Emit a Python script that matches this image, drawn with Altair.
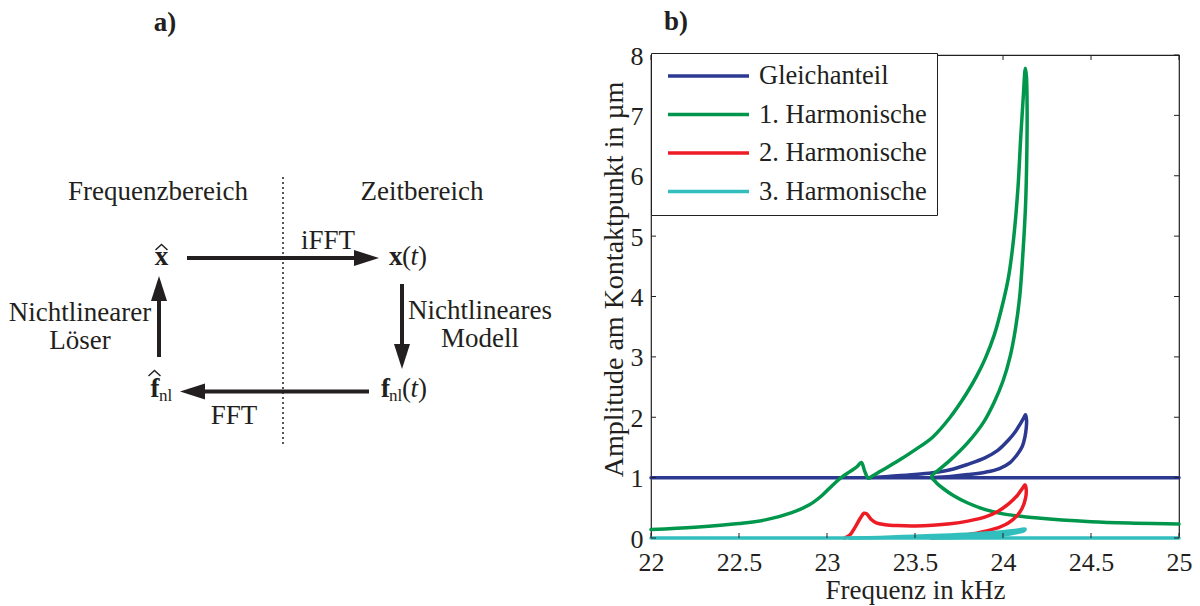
import math
import altair as alt
import pandas as pd

FONT = "Liberation Serif"
INK = "#231f20"

# ---------------- chart data (panel b) ----------------
SERIES = ["Gleichanteil", "1. Harmonische", "2. Harmonische", "3. Harmonische"]
COLORS = ["#2B3990", "#00964B", "#ED1C24", "#33BEBE"]
X_TICKS = [22, 22.5, 23, 23.5, 24, 24.5, 25]
Y_TICKS = [0, 1, 2, 3, 4, 5, 6, 7, 8]
X_TITLE = "Frequenz in kHz"
Y_TITLE = "Amplitude am Kontaktpunkt in µm"

# Gleichanteil
gl_flat_f = [22.0, 25.0]
gl_flat_a = [1.0, 1.0]
gl_loop_f = [23.235, 23.35, 23.50, 23.60, 23.70, 23.80, 23.90, 23.97, 24.03, 24.07, 24.10, 24.12,
             24.128, 24.134, 24.132, 24.125, 24.11, 24.08, 24.04, 23.98, 23.90, 23.80, 23.70, 23.595]
gl_loop_a = [1.00, 1.02, 1.05, 1.08, 1.13, 1.22, 1.33, 1.45, 1.62, 1.76, 1.90, 2.00,
             2.04, 1.95, 1.82, 1.68, 1.52, 1.38, 1.25, 1.15, 1.09, 1.05, 1.02, 1.00]

# 1. Harmonische
h1_f = [22.00, 22.25, 22.50, 22.65, 22.80, 22.90, 22.97, 23.03, 23.08, 23.13, 23.17, 23.195,
        23.215, 23.235, 23.26, 23.30, 23.40, 23.50, 23.60, 23.70, 23.79, 23.85, 23.90, 23.95,
        23.99, 24.03, 24.06, 24.085, 24.10, 24.115, 24.127, 24.133, 24.137, 24.135, 24.128,
        24.115, 24.095, 24.07, 24.04, 24.00, 23.95, 23.89, 23.80, 23.70, 23.64, 23.595, 23.62,
        23.66, 23.72, 23.80, 23.90, 24.00, 24.20, 24.50, 24.75, 25.00]
h1_a = [0.14, 0.18, 0.24, 0.30, 0.42, 0.55, 0.70, 0.87, 1.00, 1.10, 1.18, 1.25,
        1.10, 0.99, 1.03, 1.10, 1.27, 1.46, 1.67, 2.00, 2.38, 2.68, 2.98, 3.36,
        3.78, 4.30, 4.95, 5.80, 6.60, 7.30, 7.78, 7.65, 7.10, 6.30, 5.50,
        4.80, 4.00, 3.45, 3.00, 2.60, 2.25, 1.92, 1.58, 1.29, 1.14, 1.02, 0.92,
        0.82, 0.70, 0.58, 0.47, 0.40, 0.33, 0.27, 0.245, 0.23]

# 2. Harmonische
h2_f = [23.10, 23.13, 23.16, 23.19, 23.21, 23.225, 23.25, 23.28, 23.33, 23.40, 23.50, 23.60,
        23.70, 23.80, 23.90, 23.97, 24.03, 24.08, 24.11, 24.125, 24.132, 24.128, 24.11, 24.08,
        24.03, 23.95, 23.85, 23.75, 23.65, 23.595]
h2_a = [0.00, 0.05, 0.18, 0.33, 0.41, 0.40, 0.31, 0.25, 0.22, 0.205, 0.20, 0.21,
        0.235, 0.28, 0.35, 0.44, 0.56, 0.70, 0.82, 0.88, 0.80, 0.66, 0.50, 0.37,
        0.25, 0.15, 0.08, 0.04, 0.015, 0.0]

# 3. Harmonische
h3_flat_f = [22.0, 25.0]
h3_flat_a = [0.0, 0.0]
h3_loop_f = [23.13, 23.30, 23.50, 23.70, 23.85, 23.95, 24.05, 24.10, 24.125, 24.12, 24.08,
             24.00, 23.90, 23.75, 23.60]
h3_loop_a = [0.0, 0.01, 0.03, 0.05, 0.07, 0.09, 0.12, 0.14, 0.15, 0.12, 0.09,
             0.05, 0.03, 0.01, 0.0]

# ---------------- diagram content (panel a), in diagram units ----------------
diag_regular = [("Frequenzbereich", 158, 200), ("Zeitbereich", 422, 200), ("iFFT", 328, 249),
                ("FFT", 234, 424), ("Nichtlinearer", 80, 321), ("Löser", 80, 349),
                ("Nichtlineares", 480, 319), ("Modell", 480, 347)]
diag_bold_center = [("x", 161.5, 265), ("f", 155, 397), ("a)", 165, 31), ("b)", 676, 30)]
diag_bold_left = [("x", 389, 265), ("f", 381, 397)]
diag_paren_left = [("(", 402, 265), (")", 418, 265), ("(", 402, 397), (")", 418, 397)]
diag_italic_left = [("t", 410.5, 265), ("t", 410.5, 397)]
diag_sub_left = [("nl", 159, 401), ("nl", 389, 401)]
diag_hats = [[(155.5, 250), (161.5, 244.5), (167.5, 250)],
             [(148.5, 376), (154.5, 370.5), (160.5, 376)]]
diag_arrows = [(187, 258, 379, 258), (402, 284, 402, 369), (369, 391.5, 180, 391.5), (159, 357, 159, 276)]
diag_divider = [(283, 177, 283, 445)]


# ---------------- build tables ----------------
def seg_rows(series, sid, fs, as_):
    return [{"series": series, "seg": f"{series}-{sid}", "i": i, "f": f, "a": a}
            for i, (f, a) in enumerate(zip(fs, as_))]


rows = []
rows += seg_rows(SERIES[0], 0, gl_flat_f, gl_flat_a)
rows += seg_rows(SERIES[0], 1, gl_loop_f, gl_loop_a)
rows += seg_rows(SERIES[1], 0, h1_f, h1_a)
rows += seg_rows(SERIES[2], 0, h2_f, h2_a)
rows += seg_rows(SERIES[3], 0, h3_flat_f, h3_flat_a)
rows += seg_rows(SERIES[3], 1, h3_loop_f, h3_loop_a)
curves = pd.DataFrame(rows)

xt = pd.DataFrame({"f": X_TICKS})
yt = pd.DataFrame({"a": Y_TICKS})

W, H = 528, 483
PAD = {"left": 651, "top": 55, "right": 21, "bottom": 68}
FS = 26
FS_T = 27

x_enc = alt.X("f:Q", scale=alt.Scale(domain=[22, 25], nice=False, zero=False),
              axis=alt.Axis(values=X_TICKS, format="~g", title=X_TITLE, ticks=False, tickSize=0,
                            domain=False, grid=False, labelFont=FONT, labelFontSize=FS,
                            labelColor=INK, labelBaseline="alphabetic", labelPadding=32,
                            labelFlush=False, labelOverlap=False, titleFont=FONT,
                            titleFontSize=FS_T, titleFontWeight="normal", titleColor=INK,
                            titleBaseline="alphabetic", titleX=W / 2, titleY=60))
y_enc = alt.Y("a:Q", scale=alt.Scale(domain=[0, 8], nice=False, zero=False),
              axis=alt.Axis(values=Y_TICKS, format="d", title=Y_TITLE, ticks=False, tickSize=0,
                            domain=False, grid=False, labelFont=FONT, labelFontSize=FS,
                            labelColor=INK, labelAlign="right", labelBaseline="alphabetic",
                            labelOffset=9, labelPadding=8, labelFlush=False, labelOverlap=False,
                            titleFont=FONT, titleFontSize=28, titleFontWeight="normal",
                            titleColor=INK, titleAngle=270, titleBaseline="alphabetic",
                            titleAlign="center", titleX=-29, titleY=224))
c_enc = alt.Color("series:N", scale=alt.Scale(domain=SERIES, range=COLORS),
                  legend=alt.Legend(title=None, orient="none", legendX=0, legendY=-2,
                                    direction="vertical", symbolType="stroke", symbolSize=6561,
                                    symbolStrokeWidth=3.5, clipHeight=26, rowPadding=11.5,
                                    labelFont=FONT, labelFontSize=26.5, labelColor=INK,
                                    labelOffset=8, symbolOffset=5, padding=10,
                                    strokeColor=INK, fillColor="white", labelLimit=0,
                                    labelExpr="datum.label + '\u00a0\u00a0\u00a0'"))

line_layers = []
for name in SERIES:
    line_layers.append(
        alt.Chart(curves).transform_filter(alt.datum.series == name)
        .mark_line(strokeWidth=3.5, strokeCap="round", strokeJoin="round",
                   interpolate="catmull-rom")
        .encode(x=x_enc, y=y_enc, color=c_enc, detail="seg:N", order="i:Q")
    )

tick_len = 5
ticks_bottom = alt.Chart(xt).mark_rule(color=INK, strokeWidth=1).encode(
    x=x_enc, y=alt.value(H), y2=alt.value(H - tick_len))
ticks_top = alt.Chart(xt).mark_rule(color=INK, strokeWidth=1).encode(
    x=x_enc, y=alt.value(0), y2=alt.value(tick_len))
ticks_left = alt.Chart(yt).mark_rule(color=INK, strokeWidth=1).encode(
    y=y_enc, x=alt.value(0), x2=alt.value(tick_len))
ticks_right = alt.Chart(yt).mark_rule(color=INK, strokeWidth=1).encode(
    y=y_enc, x=alt.value(W), x2=alt.value(W - tick_len))

plot = alt.layer(*line_layers, ticks_bottom, ticks_top, ticks_left, ticks_right)

# ---------------- diagram layers ----------------
DX = alt.Scale(domain=[0, 1200], range=[-PAD["left"], 1200 - PAD["left"]], nice=False, zero=False)
DY = alt.Scale(domain=[0, 606], range=[-PAD["top"], 606 - PAD["top"]], nice=False, zero=False)


def tdf(items):
    return pd.DataFrame([{"t": t, "dx": x, "dy": y} for t, x, y in items])


def text_layer(items, **style):
    return alt.Chart(tdf(items)).mark_text(font=FONT, color=INK, baseline="alphabetic", **style).encode(
        x=alt.X("dx:Q", scale=DX, axis=None), y=alt.Y("dy:Q", scale=DY, axis=None), text="t:N")


txt_regular = text_layer(diag_regular, fontSize=FS_T, align="center")
txt_boldc = text_layer(diag_bold_center, fontSize=FS_T, align="center", fontWeight="bold")
txt_boldl = text_layer(diag_bold_left, fontSize=FS_T, align="left", fontWeight="bold")
txt_paren = text_layer(diag_paren_left, fontSize=FS_T, align="left")
txt_ital = text_layer(diag_italic_left, fontSize=FS_T, align="left", fontStyle="italic")
txt_sub = text_layer(diag_sub_left, fontSize=17, align="left")

hat_rows = []
for h, pts in enumerate(diag_hats):
    for k, (x, y) in enumerate(pts):
        hat_rows.append({"hat": h, "k": k, "dx": x, "dy": y})
hats = alt.Chart(pd.DataFrame(hat_rows)).mark_line(color=INK, strokeWidth=1.4).encode(
    x=alt.X("dx:Q", scale=DX, axis=None), y=alt.Y("dy:Q", scale=DY, axis=None),
    detail="hat:N", order="k:Q")

HEAD_LEN = 25
arrow_rows, head_rows = [], []
for (x1, y1, x2, y2) in diag_arrows:
    L = math.hypot(x2 - x1, y2 - y1)
    ux, uy = (x2 - x1) / L, (y2 - y1) / L
    arrow_rows.append({"dx": x1, "dy": y1, "dx2": x2 - 14 * ux, "dy2": y2 - 14 * uy})
    head_rows.append({"dx": x2 - HEAD_LEN / 2 * ux, "dy": y2 - HEAD_LEN / 2 * uy,
                      "ang": math.degrees(math.atan2(uy, ux)) % 360})

shafts = alt.Chart(pd.DataFrame(arrow_rows)).mark_rule(color=INK, strokeWidth=4).encode(
    x=alt.X("dx:Q", scale=DX, axis=None), y=alt.Y("dy:Q", scale=DY, axis=None),
    x2="dx2:Q", y2="dy2:Q")
heads = alt.Chart(pd.DataFrame(head_rows)).mark_point(
    shape="M1,0L-1,-0.64L-1,0.64Z", filled=True, size=HEAD_LEN ** 2, color=INK, opacity=1,
    strokeWidth=0).encode(
    x=alt.X("dx:Q", scale=DX, axis=None), y=alt.Y("dy:Q", scale=DY, axis=None),
    angle=alt.Angle("ang:Q", scale=None))

divider = alt.Chart(pd.DataFrame([{"dx": a, "dy": b, "dx2": c, "dy2": d} for a, b, c, d in diag_divider])
                    ).mark_rule(color=INK, strokeWidth=1.5, strokeDash=[2, 3]).encode(
    x=alt.X("dx:Q", scale=DX, axis=None), y=alt.Y("dy:Q", scale=DY, axis=None),
    x2="dx2:Q", y2="dy2:Q")

diagram = alt.layer(divider, shafts, heads, hats, txt_regular, txt_boldc, txt_boldl,
                    txt_paren, txt_ital, txt_sub)

chart = (
    alt.layer(plot, diagram)
    .resolve_scale(x="independent", y="independent")
    .properties(width=W, height=H, padding=PAD, autosize=alt.AutoSizeParams(type="none"),
                background="white")
    .configure_view(stroke=INK, strokeWidth=1.2)
)

chart.save("out.html", embed_options={"renderer": "svg", "actions": False})
